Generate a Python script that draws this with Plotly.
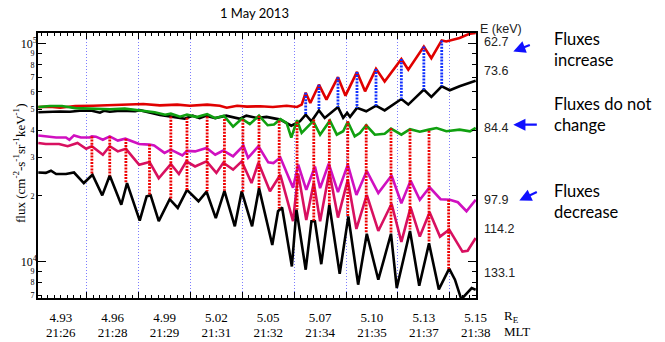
import math
import plotly.graph_objects as go

# ---------------- data ----------------
# time: seconds after the first (4.93 R_E / 21:26 MLT) label
# flux: units of 1e4 cm^-2 s^-1 sr^-1 keV^-1
UNIT = 1e4

energies = ["62.7", "73.6", "84.4", "97.9", "114.2", "133.1"]

t_627 = [-39, -19, -1, 25, 56, 85, 111, 143, 172, 202, 224, 254, 276, 288, 306, 323, 346, 368, 392, 410,
         418, 425, 433, 448, 461, 481, 494, 514, 528, 547, 562, 591, 603, 630, 643, 661, 669, 692, 710, 720]
f_627 = [5.11, 5.14, 5.08, 5.17, 5.19, 5.22, 5.22, 5.28, 5.21, 5.25, 5.19, 5.25, 5.19, 5.08, 5.19, 5.14, 5.16, 5.12, 5.19, 5.12,
         5.25, 5.95, 5.34, 6.48, 5.53, 7.02, 5.77, 7.42, 6.04, 7.66, 6.70, 8.50, 7.60, 9.70, 8.58, 10.35, 10.24, 10.62, 11.12, 11.2]

t_736 = [-39, -19, -1, 16, 33, 54, 68, 75, 85, 103, 129, 137, 155, 172, 198, 215, 229, 241, 252, 268,
         287, 302, 311, 322, 340, 357, 381, 400, 415, 425, 435, 448, 458, 481, 490, 497, 502, 514, 530, 547,
         562, 591, 603, 630, 643, 661, 675, 692, 710, 720]
f_736 = [4.84, 4.87, 4.88, 4.87, 4.92, 4.92, 4.82, 4.92, 4.87, 4.92, 4.90, 4.95, 4.82, 4.70, 4.60, 4.52, 4.67, 4.55, 4.67, 4.55,
         4.67, 4.57, 4.52, 4.67, 4.56, 4.61, 4.48, 4.20, 4.40, 4.72, 4.40, 4.94, 4.56, 5.12, 4.56, 4.81, 4.61, 5.07, 4.89, 5.19,
         4.94, 5.57, 5.25, 6.15, 5.70, 6.37, 6.11, 6.37, 6.64, 6.75]

t_844 = [-39, -19, 2, 25, 51, 85, 111, 137, 163, 181, 191, 207, 219, 236, 254, 268, 283, 299, 314, 328,
         344, 359, 370, 381, 392, 400, 410, 418, 426, 438, 450, 461, 467, 479, 490, 498, 510, 519, 530, 545,
         562, 573, 591, 606, 623, 639, 652, 669, 692, 710, 720]
f_844 = [5.11, 5.17, 5.17, 5.06, 5.03, 5.00, 5.03, 4.95, 4.84, 4.72, 4.77, 4.62, 4.72, 4.60, 4.75, 4.55, 4.67, 4.16, 4.52, 4.27,
         4.67, 4.22, 4.25, 4.50, 4.32, 3.70, 4.45, 3.89, 4.10, 4.41, 3.82, 4.17, 4.43, 3.82, 3.96, 4.38, 3.75, 3.89, 4.22, 3.82,
         3.86, 4.07, 3.82, 4.05, 3.94, 4.03, 4.10, 3.96, 4.03, 3.96, 4.10]

t_979 = [-39, -26, -8, 9, 15, 23, 35, 50, 54, 61, 73, 85, 99, 112, 125, 136, 154, 162, 180, 191,
         211, 219, 233, 253, 268, 282, 299, 317, 325, 343, 360, 369, 381, 403, 412, 426, 441, 450, 465, 481,
         498, 513, 531, 551, 574, 591, 607, 623, 640, 659, 675, 689, 704, 720]
f_979 = [3.79, 3.75, 3.71, 3.71, 3.62, 3.79, 3.71, 3.71, 3.75, 3.74, 3.62, 3.75, 3.59, 3.66, 3.54, 3.46, 3.44, 3.41, 3.15, 3.26,
         3.07, 3.22, 3.20, 3.32, 3.09, 3.23, 3.04, 3.40, 2.99, 3.38, 2.85, 2.83, 3.00, 2.18, 2.78, 2.13, 2.73, 2.17, 2.81, 2.08,
         2.78, 2.02, 2.60, 2.06, 2.48, 1.85, 2.35, 1.92, 2.19, 1.93, 1.92, 1.87, 1.70, 1.92]

t_1142 = [-39, -26, -3, 12, 29, 44, 54, 73, 85, 99, 113, 136, 154, 170, 191, 205, 218, 233, 253, 270,
          282, 299, 314, 331, 343, 363, 381, 403, 412, 426, 439, 450, 466, 481, 498, 513, 531, 551, 574, 591,
          607, 623, 640, 658, 674, 697, 706, 720]
f_1142 = [3.50, 3.46, 3.46, 3.38, 3.50, 3.29, 3.38, 3.09, 3.38, 3.20, 3.29, 2.78, 2.86, 2.41, 2.80, 2.52, 2.88, 2.73, 2.88, 2.55,
          2.84, 2.64, 2.88, 2.29, 2.84, 2.10, 2.50, 1.53, 2.53, 1.55, 2.30, 1.53, 2.58, 1.59, 2.37, 1.41, 2.02, 1.38, 1.84, 1.23,
          1.77, 1.30, 1.68, 1.30, 1.40, 1.11, 1.12, 1.28]

t_1331 = [-39, -26, -17, -8, 9, 23, 40, 55, 72, 85, 105, 115, 137, 149, 156, 170, 189, 203, 219, 239,
          253, 269, 284, 302, 314, 332, 344, 367, 377, 384, 401, 409, 425, 435, 441, 452, 466, 484, 499, 516,
          531, 551, 562, 573, 583, 606, 622, 639, 656, 674, 684, 695, 713, 720]
f_1331 = [2.56, 2.55, 2.61, 2.52, 2.52, 2.56, 2.29, 2.50, 2.01, 2.48, 1.82, 2.29, 1.54, 1.99, 2.01, 1.53, 1.93, 1.76, 2.13, 1.89,
          2.09, 1.58, 2.11, 1.45, 2.10, 1.45, 2.17, 1.19, 1.70, 1.77, 0.948, 1.73, 0.916, 1.53, 1.53, 0.971, 1.82, 0.878, 1.61, 0.782,
          1.34, 0.824, 1.05, 1.34, 0.755, 1.38, 0.773, 1.21, 0.744, 0.926, 0.824, 0.670, 0.755, 0.741]

# peak-to-peak connectors
red_link_t = [54, 85, 113, 154, 191, 219, 254, 284, 316, 344, 379, 410, 439, 466, 498, 530, 573, 606, 639, 673]
red_link_top = [3.75, 3.75, 3.66, 3.44, 4.63, 4.57, 4.63, 4.51, 4.48, 4.67, 4.43, 4.38, 4.48, 4.48, 4.40, 4.25, 4.09, 4.05, 3.98, 1.92]
red_link_bot = [2.50, 2.48, 2.29, 2.00, 1.93, 2.13, 2.10, 2.11, 2.09, 2.17, 1.75, 1.73, 1.53, 1.82, 1.61, 1.35, 1.35, 1.40, 1.22, 0.926]

blue_link_t = [425, 448, 481, 514, 547, 591, 630, 661]
blue_link_top = [5.95, 6.48, 7.02, 7.42, 7.66, 8.50, 9.70, 10.35]
blue_link_bot = [4.72, 4.94, 5.12, 5.07, 5.19, 5.57, 6.15, 6.37]

# axis labels
label_t = [0, 90, 180, 270, 360, 450, 540, 630, 720]
re_labels = ["4.93", "4.96", "4.99", "5.02", "5.05", "5.07", "5.10", "5.13", "5.15"]
mlt_labels = ["21:26", "21:28", "21:29", "21:31", "21:32", "21:34", "21:35", "21:37", "21:38"]
grid_t = [45, 135, 225, 315, 405, 495, 585, 675]

ytick_minor = [7e3, 8e3, 9e3, 2e4, 3e4, 4e4, 5e4, 6e4, 7e4, 8e4, 9e4]
ytick_major = [1e4, 1e5]

# ---------------- figure ----------------
SERIF = "Liberation Serif, Times New Roman, serif"
SANS = "Liberation Sans, Arial, sans-serif"
CAL = "Lato, Open Sans, sans-serif"

series = [
    (t_627, f_627, "#e00000"),
    (t_736, f_736, "#000000"),
    (t_844, f_844, "#10a010"),
    (t_979, f_979, "#d010c0"),
    (t_1142, f_1142, "#d81060"),
    (t_1331, f_1331, "#000000"),
]

fig = go.Figure()
for (tt, ff, col), e in zip(series, energies):
    fig.add_trace(go.Scatter(x=tt, y=[v * UNIT for v in ff], mode="lines", name=e + " keV",
                             line=dict(color=col, width=2.6), showlegend=False, hoverinfo="skip"))


def links(ts, tops, bots):
    X, Y = [], []
    for t, a, b in zip(ts, tops, bots):
        X += [t, t, None]
        Y += [a * UNIT, b * UNIT, None]
    return X, Y


rx, ry = links(red_link_t, red_link_top, red_link_bot)
fig.add_trace(go.Scatter(x=rx, y=ry, mode="lines", line=dict(color="#ee0000", width=2.8, dash="2px,1.2px"),
                         showlegend=False, hoverinfo="skip"))
bx, by = links(blue_link_t, blue_link_top, blue_link_bot)
fig.add_trace(go.Scatter(x=bx, y=by, mode="lines", line=dict(color="#1030ff", width=2.8, dash="2px,1.2px"),
                         showlegend=False, hoverinfo="skip"))

# helper (empty) traces so that the overlay axes are drawn
fig.add_trace(go.Scatter(x=[None], y=[None], xaxis="x2", yaxis="y", showlegend=False, hoverinfo="skip"))
fig.add_trace(go.Scatter(x=[None], y=[None], xaxis="x3", yaxis="y", showlegend=False, hoverinfo="skip"))
fig.add_trace(go.Scatter(x=[None], y=[None], xaxis="x", yaxis="y2", showlegend=False, hoverinfo="skip"))

XR = [-39.5, 720.5]
YR = [3.832, 5.049]

minor_text = [str(int(round(v / 10 ** math.floor(math.log10(v))))) for v in ytick_minor]
major_text = ["10<sup>%d</sup>" % round(math.log10(v)) for v in ytick_major]

fig.update_layout(
    width=665, height=342,
    margin=dict(l=38, r=189, t=33, b=44, autoexpand=False),
    paper_bgcolor="white", plot_bgcolor="white",
    xaxis=dict(range=XR, tickmode="array", tickvals=grid_t, showticklabels=False, automargin=False,
               ticks="inside", ticklen=6, tickwidth=1, tickcolor="black",
               minor=dict(ticks="inside", ticklen=3, tickwidth=1, tickcolor="black",
                          tickmode="linear", tick0=45, dtick=11.25, showgrid=False),
               showgrid=True, gridcolor="#7c7cff", gridwidth=1, griddash="1px,2px",
               showline=True, linecolor="black", linewidth=1.6, mirror="ticks", zeroline=False),
    xaxis2=dict(overlaying="x", anchor="y", side="bottom", range=XR, tickmode="array", automargin=False,
                tickvals=label_t, ticktext=re_labels, ticks="", showline=False, showgrid=False,
                zeroline=False, ticklabelstandoff=10,
                tickfont=dict(family=SERIF, size=13, color="black")),
    xaxis3=dict(overlaying="x", anchor="y", side="bottom", range=XR, tickmode="array", automargin=False,
                tickvals=label_t, ticktext=mlt_labels, ticks="", showline=False, showgrid=False,
                zeroline=False, ticklabelstandoff=25,
                tickfont=dict(family=SERIF, size=13, color="black")),
    yaxis=dict(type="log", range=YR, tickmode="array", tickvals=ytick_minor, ticktext=minor_text,
               ticks="inside", ticklen=4, tickwidth=1, tickcolor="black", automargin=False,
               showline=True, linecolor="black", linewidth=1.6, mirror="ticks",
               showgrid=False, zeroline=False,
               tickfont=dict(family=SERIF, size=8, color="black")),
    yaxis2=dict(type="log", range=YR, overlaying="y", anchor="x", side="left", tickmode="array",
                tickvals=ytick_major, ticktext=major_text, automargin=False,
                ticks="inside", ticklen=8, tickwidth=1.2, tickcolor="black",
                showline=False, showgrid=False, zeroline=False, mirror="ticks",
                tickfont=dict(family=SERIF, size=12, color="black")),
)

ann = []
ann.append(dict(text="1 May 2013", x=0.495, y=1.077, xref="paper", yref="paper", showarrow=False,
                font=dict(family=CAL, size=13, color="black"), xanchor="center", yanchor="middle"))
ann.append(dict(text="flux (cm<sup>-2</sup>-s<sup>-1</sup>sr<sup>-1</sup>keV<sup>-1</sup>)", textangle=-90,
                x=-0.043, y=0.51, xref="paper", yref="paper", showarrow=False,
                font=dict(family=SERIF, size=13, color="black"), xanchor="center", yanchor="middle"))
ann.append(dict(text="E (keV)", x=1.0046, y=1.015, xref="paper", yref="paper", showarrow=False,
                font=dict(family=SANS, size=12.5, color="#222"), xanchor="left", yanchor="middle"))
label_y = [0.9645, 0.8577, 0.6415, 0.3709, 0.2604, 0.0943]
for e, yy in zip(energies, label_y):
    ann.append(dict(text=e, x=1.0137, y=yy, xref="paper", yref="paper", showarrow=False,
                    font=dict(family=SANS, size=12.5, color="#222"), xanchor="left", yanchor="middle"))
ann.append(dict(text="R<sub>E</sub>", x=1.0594, y=-0.069, xref="paper", yref="paper", showarrow=False,
                font=dict(family=SERIF, size=13, color="black"), xanchor="left", yanchor="middle"))
ann.append(dict(text="MLT", x=1.0594, y=-0.126, xref="paper", yref="paper", showarrow=False,
                font=dict(family=SERIF, size=13, color="black"), xanchor="left", yanchor="middle"))
for txt, yy in [("Fluxes<br>increase", 0.937), ("Fluxes do not<br>change", 0.6936), ("Fluxes<br>decrease", 0.3653)]:
    ann.append(dict(text=txt, x=1.1728, y=yy, xref="paper", yref="paper", showarrow=False, align="left",
                    font=dict(family=CAL, size=16.5, color="black"), xanchor="left", yanchor="middle"))
for xx, yy, axp, ayp in [(1.0852, 0.9306, 18, -7), (1.0852, 0.654, 25, 0), (1.0989, 0.3683, 19, -9)]:
    ann.append(dict(text="", x=xx, y=yy, xref="paper", yref="paper", showarrow=True, ax=axp, ay=ayp,
                    arrowhead=2, arrowsize=1.1, arrowwidth=2.2, arrowcolor="#1010ff", standoff=0))
fig.update_layout(annotations=ann)

fig.write_html("out.html")
